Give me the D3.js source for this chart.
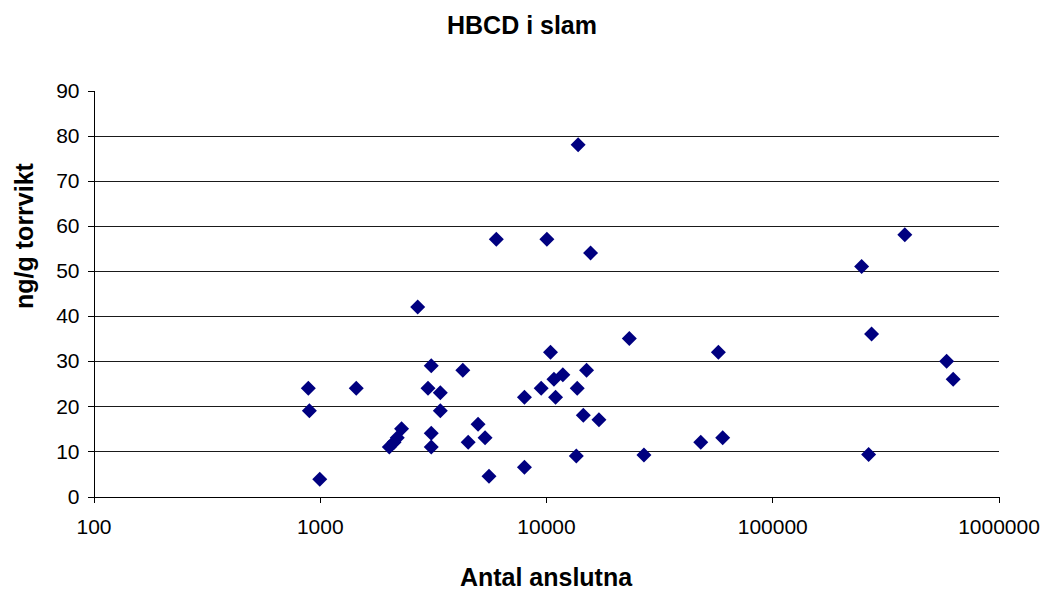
<!DOCTYPE html>
<html>
<head>
<meta charset="utf-8">
<script src="https://cdn.jsdelivr.net/npm/d3@7"></script>
<style>
  html, body { margin: 0; padding: 0; background: #fff; }
  svg { display: block; }
  text { font-family: "Liberation Sans", Arial, sans-serif; fill: #000; }
</style>
</head>
<body>
<svg id="chart" width="1044" height="590"></svg>
<script>
// Antal anslutna (connected persons) per treatment plant
const anslutna = [
  890, 900, 1000, 1450, 2030, 2130, 2200, 2300, 2710, 3010,
  3110, 3110, 3110, 3410, 3410, 4290, 4530, 5010, 5380, 5600,
  6030, 8030, 8030, 9520, 10090, 10470, 10840, 11020, 11870, 13610,
  13740, 13870, 14620, 15110, 15740, 17140, 23350, 27100, 48310, 57810,
  60380, 248300, 266700, 274800, 385400, 590000, 630700
];
// HBCD in sludge, ng/g dry weight
const hbcd = [
  24, 19, 3.8, 24, 11, 12, 13, 15, 42, 24,
  29, 14, 11, 23, 19, 28, 12, 16, 13, 4.5,
  57, 22, 6.5, 24, 57, 32, 26, 22, 27, 9,
  24, 78, 18, 28, 54, 17, 35, 9.2, 12, 32,
  13, 51, 9.3, 36, 58, 30, 26
];
const xTicks = [100, 1000, 10000, 100000, 1000000];
const yTicks = [0, 10, 20, 30, 40, 50, 60, 70, 80, 90];
const gridValues = [10, 20, 30, 40, 50, 60, 70, 80];

const svg = d3.select("#chart");
const plotLeft = 93.5, plotRight = 998.5, plotBottom = 496.5, plotTop = 90.5;

const x = d3.scaleLog().domain([100, 1000000]).range([plotLeft, plotRight]);
const y = d3.scaleLinear().domain([0, 90]).range([plotBottom, plotTop]);

// horizontal gridlines
svg.append("g")
  .selectAll("line")
  .data(gridValues)
  .join("line")
  .attr("x1", plotLeft).attr("x2", plotRight)
  .attr("y1", d => Math.round(y(d)) + 0.5)
  .attr("y2", d => Math.round(y(d)) + 0.5)
  .attr("stroke", "#1a1a1a")
  .attr("stroke-width", 1)
  .attr("shape-rendering", "crispEdges");

// x axis
const xAxis = d3.axisBottom(x)
  .tickValues(xTicks)
  .tickFormat(d3.format("d"))
  .tickSizeInner(6)
  .tickSizeOuter(0)
  .tickPadding(17);
const gx = svg.append("g")
  .attr("transform", `translate(0,${plotBottom})`)
  .call(xAxis);

// y axis
const yAxis = d3.axisLeft(y)
  .tickValues(yTicks)
  .tickFormat(d3.format("d"))
  .tickSizeInner(6)
  .tickSizeOuter(0)
  .tickPadding(8);
const gy = svg.append("g")
  .attr("transform", `translate(${plotLeft},0)`)
  .call(yAxis);

[gx, gy].forEach(g => {
  g.select(".domain").attr("stroke", "#000").attr("shape-rendering", "crispEdges");
  g.selectAll(".tick line").attr("stroke", "#000").attr("shape-rendering", "crispEdges");
  g.selectAll(".tick text")
    .attr("font-family", "'Liberation Sans', Arial, sans-serif")
    .attr("font-size", 21)
    .attr("fill", "#000");
});

// data points as navy diamonds
const diamond = "M0,-7.5L7.5,0L0,7.5L-7.5,0Z";
svg.append("g")
  .selectAll("path")
  .data(anslutna.map((v, i) => [v, hbcd[i]]))
  .join("path")
  .attr("d", diamond)
  .attr("transform", d => `translate(${x(d[0])},${y(d[1])})`)
  .attr("fill", "#000080");

// titles
svg.append("text")
  .attr("x", 522).attr("y", 34)
  .attr("text-anchor", "middle")
  .attr("font-size", 25)
  .attr("font-weight", "bold")
  .text("HBCD i slam");

svg.append("text")
  .attr("x", 546).attr("y", 586)
  .attr("text-anchor", "middle")
  .attr("font-size", 25)
  .attr("font-weight", "bold")
  .text("Antal anslutna");

svg.append("text")
  .attr("transform", "translate(33,236) rotate(-90)")
  .attr("text-anchor", "middle")
  .attr("font-size", 25)
  .attr("font-weight", "bold")
  .text("ng/g torrvikt");
</script>
</body>
</html>
